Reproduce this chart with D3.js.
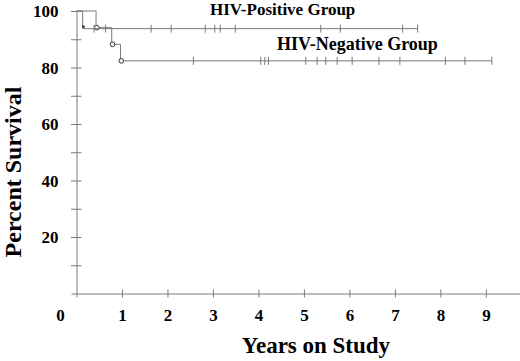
<!DOCTYPE html>
<html>
<head>
<meta charset="utf-8">
<script src="https://cdn.jsdelivr.net/npm/d3@7"></script>
<style>
  body { margin: 0; background: #fff; }
  svg { display: block; font-family: "Liberation Serif", "Times New Roman", serif; font-weight: bold; }
</style>
</head>
<body>
<div id="chart"></div>
<script>
// survival curves (years, percent)
var posTimes = [0, 0.136, 7.5],
    posSurv = [100, 93.75, 93.75],
    posDeathTimes = [0.136],
    posCensor = [0.385, 0.64, 1.64, 2.08, 2.83, 3.04, 3.16, 3.49, 5.37, 5.80, 7.17, 7.50];

var negTimes = [0, 0.43, 0.774, 0.967, 9.13],
    negSurv = [100, 94.1, 88.2, 82.35, 82.35],
    negDeathTimes = [0.43, 0.774, 0.967],
    negCensor = [2.57, 4.05, 4.14, 4.22, 5.04, 5.29, 5.48, 5.73, 6.06, 6.65, 7.11, 8.11, 8.54, 9.13];

var xTicks = [1, 2, 3, 4, 5, 6, 7, 8, 9],
    yTicks = [10, 20, 30, 40, 50, 60, 70, 80, 90, 100];

var width = 520, height = 361,
    grey = "#7a7a7a";

var svg = d3.select("#chart").append("svg")
    .attr("width", width)
    .attr("height", height);

var x = d3.scaleLinear().domain([0, 9.75]).range([76.5, 520]);
var y = d3.scaleLinear().domain([0, 100]).range([293.5, 11]);

// x axis
var gx = svg.append("g")
    .attr("transform", "translate(0," + y(0) + ")")
    .call(d3.axisBottom(x).tickValues(xTicks).tickSizeOuter(0).tickSize(4).tickFormat(d3.format("d")))
    .attr("font-family", null).attr("font-size", 17);
gx.select(".domain").attr("stroke", grey);
gx.selectAll(".tick line").attr("stroke", grey).attr("y1", -4).attr("y2", 4);
gx.selectAll(".tick text")
    .attr("y", 27).attr("dy", 0)
    .attr("fill", "#000");
gx.append("text")
    .attr("x", 60.5).attr("y", 27)
    .attr("text-anchor", "middle").attr("fill", "#000")
    .text("0");

// y axis
var gy = svg.append("g")
    .attr("transform", "translate(" + x(0) + ",0)")
    .call(d3.axisLeft(y).tickValues(yTicks).tickSizeOuter(0).tickSize(5)
      .tickFormat(function(d) { return d % 20 === 0 ? d : ""; }))
    .attr("font-family", null).attr("font-size", 17);
gy.select(".domain").attr("stroke", grey);
gy.selectAll(".tick line").attr("stroke", grey).attr("x1", -5.5).attr("x2", 5);
gy.selectAll(".tick text")
    .attr("x", -18).attr("dy", "0.35em")
    .attr("fill", "#000");

// axis titles
svg.append("text")
    .attr("x", 316).attr("y", 353)
    .attr("text-anchor", "middle").attr("font-size", 23)
    .text("Years on Study");

svg.append("text")
    .attr("transform", "translate(21,172) rotate(-90)")
    .attr("text-anchor", "middle").attr("font-size", 24)
    .text("Percent Survival");

// curves
var line = d3.line()
    .x(function(d) { return x(d[0]); })
    .y(function(d) { return y(d[1]); })
    .curve(d3.curveStepAfter);

function survAt(times, surv, t) {
  var s = surv[0];
  for (var i = 0; i < times.length; i++) if (times[i] <= t) s = surv[i];
  return s;
}

function drawCurve(times, surv, deaths, censor, r, filled) {
  var g = svg.append("g");
  g.append("path")
    .datum(d3.zip(times, surv))
    .attr("d", line)
    .attr("fill", "none")
    .attr("stroke", grey)
    .attr("stroke-width", 1);

  g.selectAll("line.censor")
    .data(censor)
    .enter().append("line")
    .attr("class", "censor")
    .attr("x1", function(d) { return x(d); })
    .attr("x2", function(d) { return x(d); })
    .attr("y1", function(d) { return y(survAt(times, surv, d)) - 4; })
    .attr("y2", function(d) { return y(survAt(times, surv, d)) + 4; })
    .attr("stroke", grey)
    .attr("stroke-width", 1);

  g.selectAll("circle")
    .data(deaths)
    .enter().append("circle")
    .attr("cx", function(d) { return x(d) + 0.8; })
    .attr("cy", function(d) { return y(survAt(times, surv, d)) - (filled ? 2 : 0); })
    .attr("r", r)
    .attr("fill", filled ? "#333" : "#fff")
    .attr("stroke", "#333")
    .attr("stroke-width", 1);
}

drawCurve(negTimes, negSurv, negDeathTimes, negCensor, 2.3, false);
drawCurve(posTimes, posSurv, posDeathTimes, posCensor, 1, true);

// group labels
svg.append("text")
    .attr("x", 210).attr("y", 15)
    .attr("font-size", 17)
    .text("HIV-Positive Group");

svg.append("text")
    .attr("x", 277).attr("y", 49.5)
    .attr("font-size", 18)
    .text("HIV-Negative Group");
</script>
</body>
</html>
